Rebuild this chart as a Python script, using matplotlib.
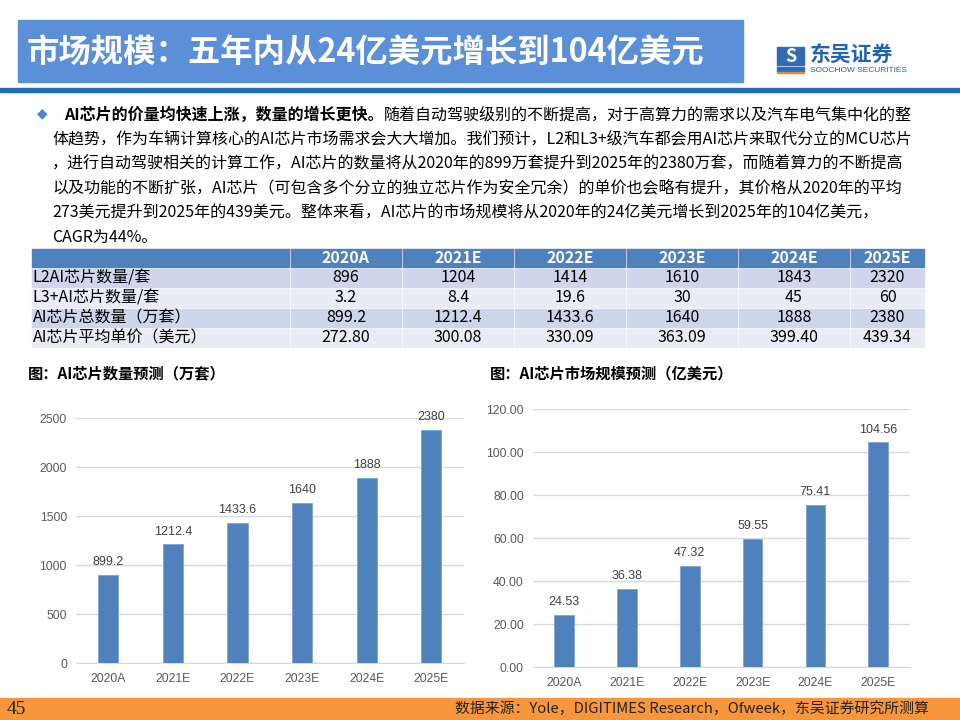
import matplotlib
matplotlib.use("Agg")
import matplotlib.pyplot as plt
from matplotlib.patches import Rectangle

plt.rcParams['font.family'] = ['Noto Sans CJK SC', 'DejaVu Sans']

# ---- data ----
years = ['2020A', '2021E', '2022E', '2023E', '2024E', '2025E']
l2_units = [896, 1204, 1414, 1610, 1843, 2320]
l3_units = [3.2, 8.4, 19.6, 30, 45, 60]
total_units = [899.2, 1212.4, 1433.6, 1640, 1888, 2380]
avg_price = [272.80, 300.08, 330.09, 363.09, 399.40, 439.34]
market_size = [24.53, 36.38, 47.32, 59.55, 75.41, 104.56]

row_labels = ['L2AI芯片数量/套', 'L3+AI芯片数量/套', 'AI芯片总数量（万套）', 'AI芯片平均单价（美元）']
units_ticks = [0, 500, 1000, 1500, 2000, 2500]
size_ticks = [0, 20, 40, 60, 80, 100, 120]

title = '市场规模：五年内从24亿美元增长到104亿美元'
bold_lead = 'AI芯片的价量均快速上涨，数量的增长更快。'
para_lines = [
    '随着自动驾驶级别的不断提高，对于高算力的需求以及汽车电气集中化的整',
    '体趋势，作为车辆计算核心的AI芯片市场需求会大大增加。我们预计，L2和L3+级汽车都会用AI芯片来取代分立的MCU芯片',
    '，进行自动驾驶相关的计算工作，AI芯片的数量将从2020年的899万套提升到2025年的2380万套，而随着算力的不断提高',
    '以及功能的不断扩张，AI芯片（可包含多个分立的独立芯片作为安全冗余）的单价也会略有提升，其价格从2020年的平均',
    '273美元提升到2025年的439美元。整体来看，AI芯片的市场规模将从2020年的24亿美元增长到2025年的104亿美元，',
    'CAGR为44%。',
]
source = '数据来源：Yole，DIGITIMES Research，Ofweek，东吴证券研究所测算'

W, H = 960, 720
fig = plt.figure(figsize=(9.6, 7.2), dpi=100)
bg = fig.add_axes([0, 0, 1, 1])
bg.set_xlim(0, W)
bg.set_ylim(H, 0)
bg.axis('off')

# header
bg.add_patch(Rectangle((18, 20), 725, 62, color='#5B8FD8'))
bg.text(27, 52, title, color='white', fontsize=23.3, weight='bold', va='center')
bg.add_patch(Rectangle((0, 87.5), W, 4, color='#1E6EB8'))

# logo
bg.add_patch(Rectangle((777, 47), 27, 18, color='#2E6DB4'))
bg.text(790.5, 56, 'S', color='white', fontsize=13, weight='bold', style='italic',
        ha='center', va='center')
bg.add_patch(Rectangle((777, 66.5), 27, 4, color='#2E6DB4'))
bg.add_patch(Rectangle((777, 71.5), 27, 1.8, color='#E8892B'))
bg.text(810, 55, '东吴证券', color='#2463AE', fontsize=15, weight='bold', va='center')
bg.text(810, 71, 'SOOCHOW SECURITIES', color='#2463AE', fontsize=6,
        family=['Liberation Sans'], va='center')

# paragraph
y0, dy = 115, 24.4
bg.text(42, y0 - 2, '◆', color='#4A86C8', fontsize=10, ha='center', va='center',
        family=['DejaVu Sans'])
t1 = bg.text(64, y0, bold_lead, fontsize=11.5, weight='bold', va='center', color='black')
bg.annotate(para_lines[0], xy=(1, 0.5), xycoords=t1, va='center', ha='left',
            fontsize=11.5, color='black')
for i, line in enumerate(para_lines[1:], start=1):
    bg.text(52, y0 + i * dy, line, fontsize=11.5, va='center', color='black')

# table
label_x0, label_x1 = 31.7, 288.7
col_x = [291 + i * 112 for i in range(5)] + [851]
col_w = [110] * 5 + [73]
head_top, head_h = 249.3, 17.2
row_h, row_pitch, row_top0 = 18, 20, 269
row_colors = ['#CFD5EA', '#E9EBF5', '#CFD5EA', '#E9EBF5']
head_color = '#4F81BD'

bg.add_patch(Rectangle((label_x0, head_top), label_x1 - label_x0, head_h, color=head_color))
for x, w, yr in zip(col_x, col_w, years):
    bg.add_patch(Rectangle((x, head_top), w, head_h, color=head_color))
    bg.text(x + w / 2, head_top + head_h / 2, yr, color='white', fontsize=11.5,
            weight='bold', ha='center', va='center')

cells = [
    [f'{v:g}' for v in l2_units],
    [f'{v:g}' for v in l3_units],
    [f'{v:g}' for v in total_units],
    [f'{v:.2f}' for v in avg_price],
]
for r, (lab, vals) in enumerate(zip(row_labels, cells)):
    top = row_top0 + r * row_pitch
    yc = top + row_h / 2
    bg.add_patch(Rectangle((label_x0, top), label_x1 - label_x0, row_h, color=row_colors[r]))
    bg.text(label_x0 + 1, yc, lab, fontsize=11.5, va='center', color='black')
    for x, w, v in zip(col_x, col_w, vals):
        bg.add_patch(Rectangle((x, top), w, row_h, color=row_colors[r]))
        bg.text(x + w / 2, yc, v, fontsize=11.5, ha='center', va='center', color='black')

# chart titles
bg.text(28, 373, '图：AI芯片数量预测（万套）', fontsize=11, weight='bold', va='center')
bg.text(490, 373, '图：AI芯片市场规模预测（亿美元）', fontsize=11, weight='bold', va='center')

# footer
bg.add_patch(Rectangle((0, 698), W, 22, color='#F7963A'))
bg.text(7, 709, '45', fontsize=14, va='center', color='#222222',
        family=['Liberation Serif'])
bg.text(929, 709, source, fontsize=10.7, ha='right', va='center', color='#222222')


def px_axes(x0, x1, ytop, ybot):
    return fig.add_axes([x0 / W, (H - ybot) / H, (x1 - x0) / W, (ybot - ytop) / H])


def bar_chart(ax, values, ticks, tick_fmt, label_fmt):
    x = range(len(years))
    ax.bar(x, values, width=0.31, color='#4F81BD', edgecolor='#7FA3D3', linewidth=0.6, zorder=3)
    ax.set_xlim(-0.5, len(years) - 0.5)
    ax.set_ylim(ticks[0], ticks[-1])
    ax.set_yticks(ticks)
    ax.set_yticklabels([tick_fmt.format(t) for t in ticks])
    ax.set_xticks(list(x))
    ax.set_xticklabels(years)
    ax.grid(axis='y', color='#D9D9D9', linewidth=1, zorder=0)
    for s in ['top', 'right', 'left']:
        ax.spines[s].set_visible(False)
    ax.spines['bottom'].set_color('#D9D9D9')
    ax.tick_params(length=0, labelsize=8.7, labelcolor='#595959')
    ax.tick_params(axis='x', pad=7)
    ax.tick_params(axis='y', pad=6.5)
    for lbl in ax.get_xticklabels() + ax.get_yticklabels():
        lbl.set_family(['Liberation Sans'])
    for xi, v in zip(x, values):
        ax.annotate(label_fmt.format(v), xy=(xi, v), xytext=(0, 5), textcoords='offset points',
                    ha='center', va='bottom', fontsize=9, color='#404040',
                    family=['Liberation Sans'])
    ax.set_facecolor('none')


ax1 = px_axes(76, 463.6, 418.3, 663.3)
bar_chart(ax1, total_units, units_ticks, '{:d}', '{:g}')

ax2 = px_axes(532.8, 909.6, 409.3, 667.3)
bar_chart(ax2, market_size, size_ticks, '{:.2f}', '{:.2f}')

fig.savefig('out.png', dpi=100)
